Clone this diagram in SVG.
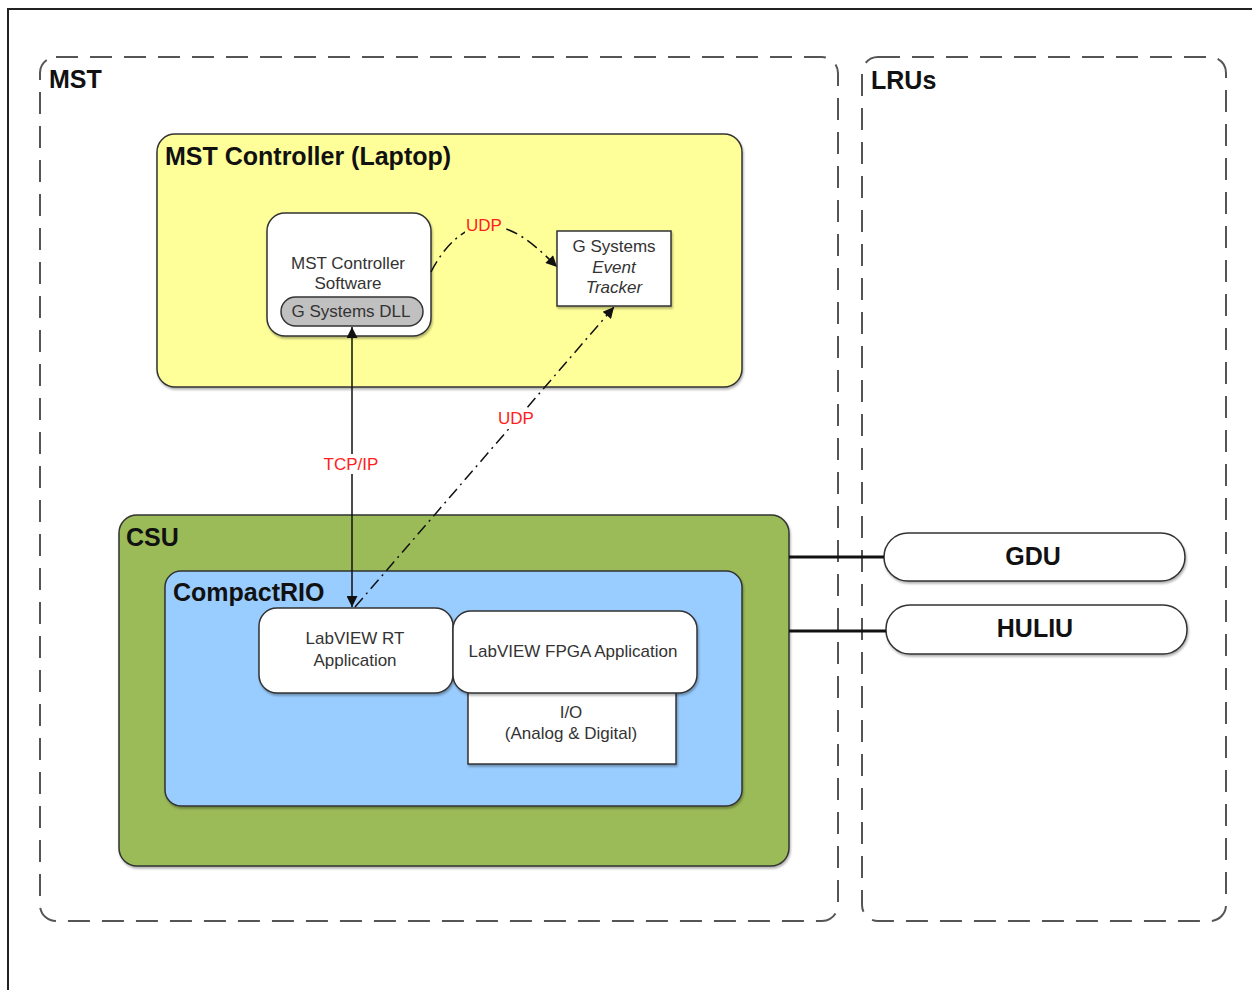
<svg xmlns="http://www.w3.org/2000/svg" width="1252" height="990" viewBox="0 0 1252 990">
<defs>
<style>
.dash{fill:none;stroke:#555;stroke-width:2;stroke-dasharray:22,12}
.box{stroke:#333;stroke-width:1.5}
.t{font-family:"Liberation Sans",Arial,sans-serif;fill:#333;font-size:17px;text-anchor:middle}
.h{font-family:"Liberation Sans",Arial,sans-serif;fill:#111;font-size:25px;font-weight:bold}
.r{font-family:"Liberation Sans",Arial,sans-serif;fill:#ff2020;font-size:17px;text-anchor:middle}
.conn{fill:none;stroke:#111;stroke-width:1.5}
.dd{stroke-dasharray:12,5,2,5}
</style>
<marker id="ah" viewBox="0 0 10 10" refX="10" refY="5" markerWidth="13" markerHeight="11" markerUnits="userSpaceOnUse" orient="auto"><path d="M0,0 L10,5 L0,10 z" fill="#111"/></marker>
<filter id="sh" x="-5%" y="-5%" width="110%" height="115%"><feDropShadow dx="1" dy="2" stdDeviation="1" flood-color="#000" flood-opacity="0.3"/></filter>
</defs>
<rect width="1252" height="990" fill="#fff"/>
<path d="M8,990 V9 H1252" fill="none" stroke="#222" stroke-width="2"/>

<g id="mst">
<rect class="dash" x="40" y="57" width="798" height="864" rx="16"/>
<text class="h" x="49" y="88">MST</text>
</g>
<g id="lrus">
<rect class="dash" x="862" y="57" width="364" height="864" rx="16"/>
<text class="h" x="871" y="89">LRUs</text>
</g>

<g id="controller">
<rect class="box" x="157" y="134" width="585" height="253" rx="18" fill="#ffff99" filter="url(#sh)"/>
<text class="h" x="165" y="165">MST Controller (Laptop)</text>
</g>
<g id="software">
<rect class="box" x="267" y="213" width="164" height="123" rx="18" fill="#fff" filter="url(#sh)"/>
<text class="t" x="348" y="269">MST Controller</text>
<text class="t" x="348" y="289">Software</text>
</g>
<g id="dll">
<rect class="box" x="281" y="297" width="142" height="29" rx="14.5" fill="#c0c0c0"/>
<text class="t" x="351" y="317">G Systems DLL</text>
</g>
<g id="tracker">
<rect class="box" x="557" y="231" width="114" height="75" fill="#fff" filter="url(#sh)"/>
<text class="t" x="614" y="252">G Systems</text>
<text class="t" x="614" y="273" font-style="italic">Event</text>
<text class="t" x="614" y="293" font-style="italic">Tracker</text>
</g>

<g id="csu">
<rect class="box" x="119" y="515" width="670" height="351" rx="18" fill="#9bbb59" filter="url(#sh)"/>
<text class="h" x="126" y="546">CSU</text>
</g>
<g id="compactrio">
<rect class="box" x="165" y="571" width="577" height="235" rx="16" fill="#99ccff" filter="url(#sh)"/>
<text class="h" x="173" y="601">CompactRIO</text>
</g>
<g id="io">
<rect class="box" x="468" y="690" width="208" height="74" fill="#fff" filter="url(#sh)"/>
<text class="t" x="571" y="718">I/O</text>
<text class="t" x="571" y="739">(Analog &amp; Digital)</text>
</g>
<g id="rt">
<rect class="box" x="259" y="608" width="194" height="85" rx="18" fill="#fff" filter="url(#sh)"/>
<text class="t" x="355" y="644">LabVIEW RT</text>
<text class="t" x="355" y="666">Application</text>
</g>
<g id="fpga">
<rect class="box" x="453" y="611" width="244" height="82" rx="18" fill="#fff" filter="url(#sh)"/>
<text class="t" x="573" y="657">LabVIEW FPGA Application</text>
</g>

<g id="gdu">
<rect class="box" x="884" y="533" width="301" height="48" rx="24" fill="#fff" filter="url(#sh)"/>
<text class="h" x="1033" y="565" text-anchor="middle">GDU</text>
</g>
<g id="huliu">
<rect class="box" x="886" y="605" width="301" height="49" rx="24" fill="#fff" filter="url(#sh)"/>
<text class="h" x="1035" y="637" text-anchor="middle">HULIU</text>
</g>

<g id="connectors">
<line x1="789" y1="557" x2="884" y2="557" stroke="#111" stroke-width="3"/>
<line x1="789" y1="631" x2="886" y2="631" stroke="#111" stroke-width="3"/>
<line class="conn" x1="352" y1="465" x2="352" y2="327" marker-end="url(#ah)"/>
<line class="conn" x1="352" y1="465" x2="352" y2="607" marker-end="url(#ah)"/>
<path class="conn dd" d="M355,607 L614,307" marker-end="url(#ah)"/>
<path class="conn dd" d="M431,272 C450,235 475,222 495,226 C520,230 540,250 557,267" marker-end="url(#ah)"/>
<rect x="321" y="454" width="60" height="20" fill="#fff"/>
<text class="r" x="351" y="470">TCP/IP</text>
<rect x="497" y="408" width="38" height="20" fill="#fff"/>
<text class="r" x="516" y="424">UDP</text>
<rect x="465" y="215" width="38" height="18" fill="#ffff99"/>
<text class="r" x="484" y="231">UDP</text>
</g>
</svg>
